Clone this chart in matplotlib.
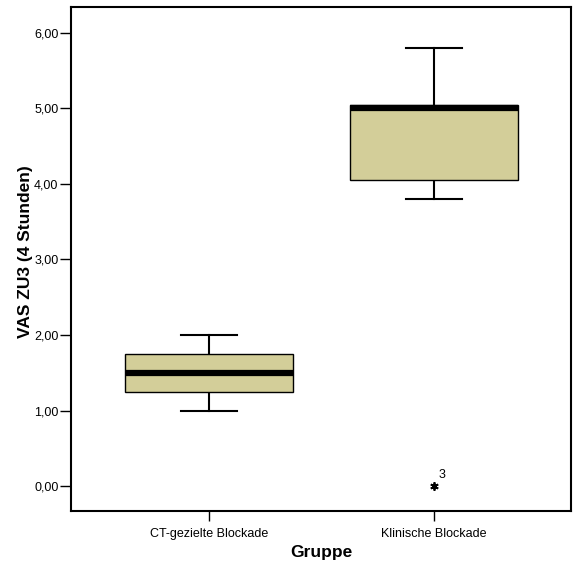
import matplotlib
matplotlib.use("Agg")
import matplotlib.pyplot as plt

plt.rcParams['font.family'] = ['Liberation Sans', 'DejaVu Sans']

groups = ["CT-gezielte Blockade", "Klinische Blockade"]
whisker_low = [1.00, 3.80]
q1 = [1.25, 4.05]
median = [1.50, 5.00]
q3 = [1.75, 5.05]
whisker_high = [2.00, 5.80]
outliers = [[], [0.00]]
outlier_labels = [[], ["3"]]
yticks = [0, 1, 2, 3, 4, 5, 6]

stats = []
for i in range(len(groups)):
    stats.append({"whislo": whisker_low[i], "q1": q1[i], "med": median[i],
                  "q3": q3[i], "whishi": whisker_high[i], "fliers": []})

fig = plt.figure(figsize=(5.76, 5.66), dpi=100)
ax = fig.add_axes([71 / 576, 55 / 566, 500 / 576, 504 / 566])

pos = [1, 2]
bp = ax.bxp(stats, positions=pos, widths=0.75, patch_artist=True,
            boxprops=dict(facecolor="#d3ce99", edgecolor="black", linewidth=1.0),
            medianprops=dict(color="black", linewidth=4.5, solid_capstyle="butt"),
            whiskerprops=dict(color="black", linewidth=1.5),
            capprops=dict(color="black", linewidth=1.5),
            capwidths=0.25, showfliers=False)
for b in bp["boxes"]:
    b.set_zorder(3)
for m in bp["medians"]:
    m.set_zorder(4)

for i, vals in enumerate(outliers):
    for v, lab in zip(vals, outlier_labels[i]):
        ax.plot(pos[i], v, marker=(6, 2, 0), color="black", markersize=6,
                markeredgewidth=1.3, linestyle="none")
        ax.annotate(lab, (pos[i], v), xytext=(3, 6), textcoords="offset points",
                    fontsize=9)

ax.set_xlim(0.387, 2.609)
ax.set_ylim(-0.331, 6.344)
ax.set_xticks(pos)
ax.set_xticklabels(groups, fontsize=9)
ax.set_yticks(yticks)
ax.set_yticklabels([f"{t:.2f}".replace(".", ",") for t in yticks], fontsize=9)
ax.tick_params(axis="y", direction="out", length=8, width=1, pad=1)
ax.tick_params(axis="x", direction="out", length=7, width=1, pad=5)
for s in ax.spines.values():
    s.set_linewidth(1.5)

ax.set_xlabel("Gruppe", fontsize=12.5, fontweight="bold", labelpad=4)
ax.set_ylabel("VAS ZU3 (4 Stunden)", fontsize=12.5, fontweight="bold")
ax.yaxis.set_label_coords(-0.076, 0.515)

fig.savefig("out.png", dpi=100)
